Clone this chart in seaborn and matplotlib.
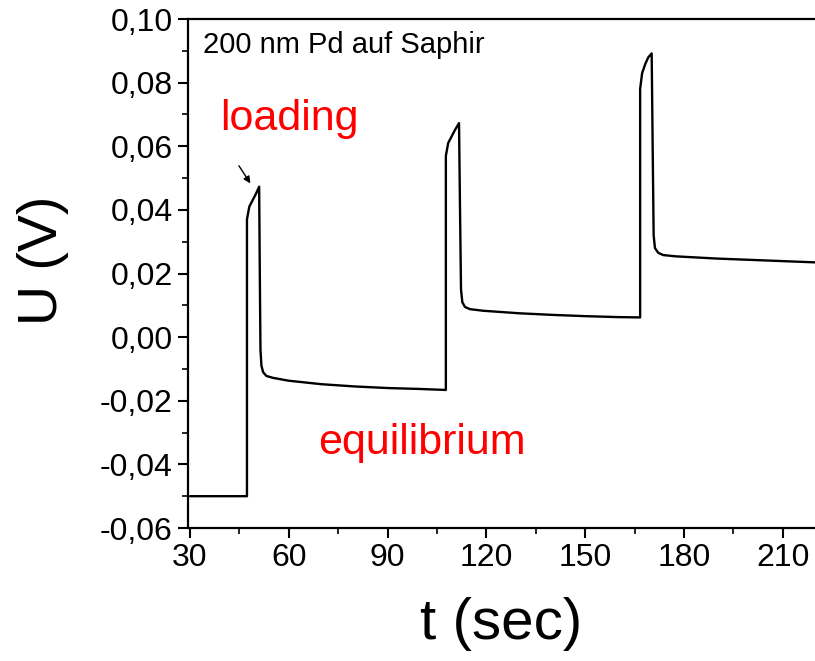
import matplotlib
matplotlib.use("Agg")
import matplotlib.pyplot as plt
from matplotlib.ticker import MultipleLocator, FuncFormatter
import pandas as pd
import seaborn as sns

# (time in s, voltage in V)
t_sec = [30, 47.3, 47.3, 48.0, 49.0, 50.0, 51.0, 51.2, 51.4, 51.7, 52.2, 53.2, 55.2, 60, 70, 80, 90, 100, 107.7,
         107.7, 108.4, 109.4, 110.4, 111.7, 112.0, 112.3, 112.7, 113.5, 115, 119, 130, 140, 150, 160, 166.7,
         166.7, 167.3, 168.3, 169.2, 170.2, 170.5, 170.8, 171.2, 172.2, 173.7, 177.5, 190, 200, 210, 220]
u_volt = [-0.050, -0.050, 0.037, 0.041, 0.043, 0.045, 0.0473, 0.020, -0.004, -0.009, -0.011, -0.0122, -0.0128,
          -0.0137, -0.0148, -0.0155, -0.0160, -0.0163, -0.0166,
          0.057, 0.061, 0.063, 0.065, 0.0673, 0.040, 0.015, 0.011, 0.0095, 0.0088, 0.0083, 0.0075, 0.0070,
          0.0066, 0.0063, 0.0062,
          0.078, 0.083, 0.086, 0.088, 0.0892, 0.060, 0.032, 0.028, 0.0265, 0.0258, 0.0254, 0.0247, 0.0243,
          0.0239, 0.0235]

x_ticks = [30, 60, 90, 120, 150, 180, 210]
y_ticks = [-0.06, -0.04, -0.02, 0.00, 0.02, 0.04, 0.06, 0.08, 0.10]

df = pd.DataFrame({'t': t_sec, 'U': u_volt})

sns.set_style("ticks")
plt.rcParams['font.family'] = ['Liberation Sans', 'DejaVu Sans']
plt.rcParams['text.color'] = 'black'
plt.rcParams['axes.labelcolor'] = 'black'
plt.rcParams['xtick.color'] = 'black'
plt.rcParams['ytick.color'] = 'black'

fig = plt.figure(figsize=(8.15, 6.61), dpi=100)
ax = fig.add_axes([0.2307, 0.2012, 0.7693, 0.770])

sns.lineplot(data=df, x='t', y='U', sort=False, estimator=None, color='black', linewidth=1.7, ax=ax)

ax.set_xlim(29.4, 219.8)
ax.set_ylim(-0.06, 0.10)
ax.set_xticks(x_ticks)
ax.set_yticks(y_ticks)
ax.xaxis.set_minor_locator(MultipleLocator(15))
ax.yaxis.set_minor_locator(MultipleLocator(0.01))
ax.yaxis.set_major_formatter(FuncFormatter(lambda v, p: f"{v:.2f}".replace('.', ',')))
ax.tick_params(which='major', direction='out', length=7, width=1.5, labelsize=23, pad=4)
ax.tick_params(which='minor', direction='out', length=4, width=1.2)
for s in ax.spines.values():
    s.set_linewidth(1.6)
    s.set_color('black')
ax.spines['right'].set_visible(False)

ax.set_xlabel('t (sec)', fontsize=42)
ax.xaxis.set_label_coords(0.5, -0.135)
ax.set_ylabel('U (V)', fontsize=40)
ax.yaxis.set_label_coords(-0.19, 0.525)

ax.text(33.9, 0.0893, '200 nm Pd auf Saphir', fontsize=21, va='baseline')
ax.text(39, 0.065, 'loading', fontsize=31, color='red', va='baseline')
ax.text(69, -0.0366, 'equilibrium', fontsize=31, color='red', va='baseline')
ax.annotate('', xy=(48.8, 0.0476), xytext=(44.4, 0.0546),
            arrowprops=dict(arrowstyle='-|>', color='black', lw=1.0, mutation_scale=10))

fig.savefig('out.png', dpi=100)
